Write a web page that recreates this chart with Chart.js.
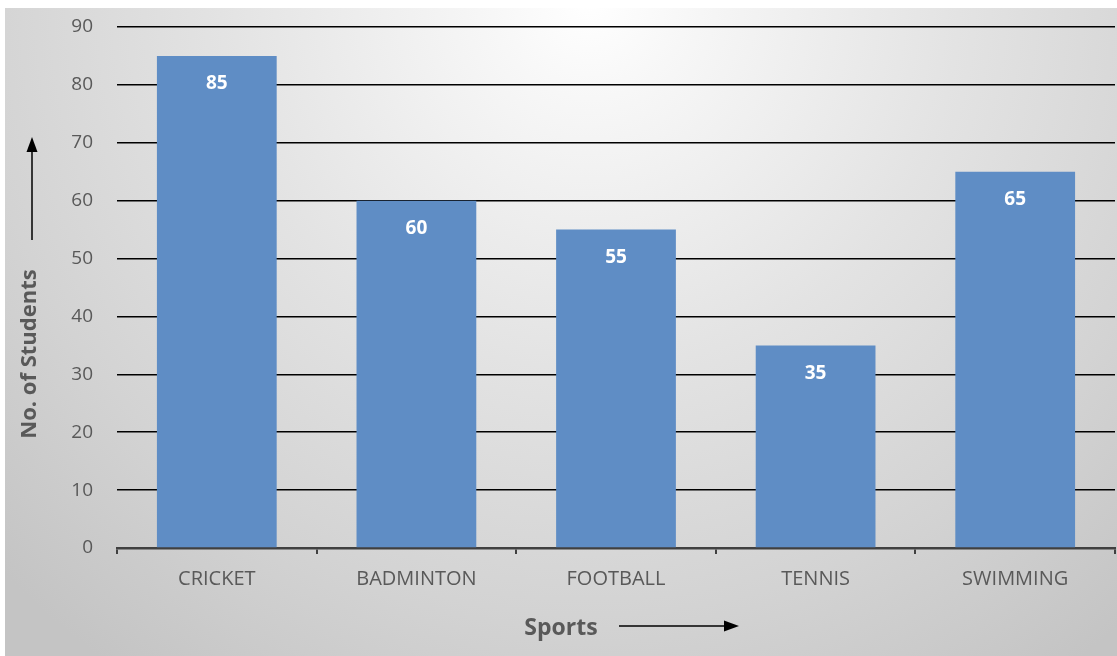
<!DOCTYPE html>
<html>
<head>
<meta charset="utf-8">
<script src="https://cdn.jsdelivr.net/npm/chart.js@4"></script>
<style>
html,body{margin:0;padding:0;background:#fff;}
#wrap{width:1117px;height:656px;position:relative;}
</style>
</head>
<body>
<div id="wrap"><canvas id="c"></canvas></div>
<script>
const categories = ["CRICKET", "BADMINTON", "FOOTBALL", "TENNIS", "SWIMMING"];
const students = [85, 60, 55, 35, 65];
const yTicks = [0, 10, 20, 30, 40, 50, 60, 70, 80, 90];
const yTitle = "No. of Students";
const xTitle = "Sports";

const bgPlugin = {
  id: 'bg',
  beforeDraw(chart) {
    const ctx = chart.ctx;
    ctx.save();
    ctx.fillStyle = '#ffffff';
    ctx.fillRect(0, 0, chart.width, chart.height);
    const g = ctx.createRadialGradient(590, 0, 0, 590, 0, 820);
    g.addColorStop(0, '#ffffff');
    g.addColorStop(0.12, '#f7f7f7');
    g.addColorStop(0.45, '#e3e3e3');
    g.addColorStop(0.75, '#d3d3d3');
    g.addColorStop(1, '#c4c4c4');
    ctx.fillStyle = g;
    ctx.fillRect(5, 8, chart.width - 5, chart.height - 8);
    ctx.restore();
  }
};

const labelPlugin = {
  id: 'labels',
  afterDatasetsDraw(chart) {
    const ctx = chart.ctx;
    const meta = chart.getDatasetMeta(0);
    ctx.save();
    ctx.fillStyle = '#ffffff';
    ctx.font = 'bold 19px "Open Sans"';
    ctx.textAlign = 'center';
    ctx.textBaseline = 'middle';
    meta.data.forEach((bar, i) => {
      ctx.fillText(String(students[i]), bar.x, bar.y + 28);
    });
    ctx.restore();
  }
};

const titlePlugin = {
  id: 'titles',
  afterDraw(chart) {
    const ctx = chart.ctx;
    ctx.save();
    ctx.fillStyle = '#595959';
    ctx.font = 'bold 22px "Open Sans"';
    // Y title
    ctx.save();
    ctx.translate(30, 354);
    ctx.rotate(-Math.PI / 2);
    ctx.textAlign = 'center';
    ctx.textBaseline = 'middle';
    ctx.fillText(yTitle, 0, 0);
    ctx.restore();
    // Y arrow
    ctx.strokeStyle = '#000';
    ctx.fillStyle = '#000';
    ctx.lineWidth = 1.5;
    ctx.beginPath();
    ctx.moveTo(32, 240);
    ctx.lineTo(32, 150);
    ctx.stroke();
    ctx.beginPath();
    ctx.moveTo(32, 137);
    ctx.lineTo(26.5, 152);
    ctx.lineTo(37.5, 152);
    ctx.closePath();
    ctx.fill();
    // X title
    ctx.fillStyle = '#595959';
    ctx.font = 'bold 23px "Open Sans"';
    ctx.textAlign = 'center';
    ctx.textBaseline = 'middle';
    ctx.fillText(xTitle, 561, 628);
    ctx.strokeStyle = '#000';
    ctx.fillStyle = '#000';
    ctx.beginPath();
    ctx.moveTo(619, 626);
    ctx.lineTo(726, 626);
    ctx.stroke();
    ctx.beginPath();
    ctx.moveTo(739, 626);
    ctx.lineTo(724, 620.5);
    ctx.lineTo(724, 631.5);
    ctx.closePath();
    ctx.fill();
    ctx.restore();
  }
};

new Chart(document.getElementById('c'), {
  type: 'bar',
  data: {
    labels: categories,
    datasets: [{
      data: students,
      backgroundColor: '#5f8dc5',
      borderWidth: 0,
      barPercentage: 0.6,
      categoryPercentage: 1.0
    }]
  },
  options: {
    responsive: true,
    maintainAspectRatio: false,
    animation: false,
    layout: { padding: { top: 27, right: 2, left: 0, bottom: 0 } },
    plugins: { legend: { display: false }, tooltip: { enabled: false } },
    scales: {
      x: {
        grid: { display: true, offset: true, drawOnChartArea: false, drawTicks: true, tickLength: 6, color: '#404040', lineWidth: 2 },
        border: { display: true, color: '#404040', width: 2.5 },
        ticks: { color: '#595959', font: { family: '"Open Sans"', size: 20 }, padding: 13 },
        afterFit(s) { s.height = 108; s.paddingLeft = 0; s.paddingRight = 0; }
      },
      y: {
        min: 0, max: 90,
        afterBuildTicks(s) { s.ticks = yTicks.map(v => ({ value: v })); },
        grid: { color: '#000000', lineWidth: 1.5, drawTicks: false },
        border: { display: false },
        ticks: { color: '#595959', font: { family: '"Open Sans"', size: 19 }, padding: 24 },
        afterFit(s) { s.width = 117; s.paddingTop = 0; s.paddingBottom = 0; }
      }
    }
  },
  plugins: [bgPlugin, labelPlugin, titlePlugin]
});
</script>
</body>
</html>
